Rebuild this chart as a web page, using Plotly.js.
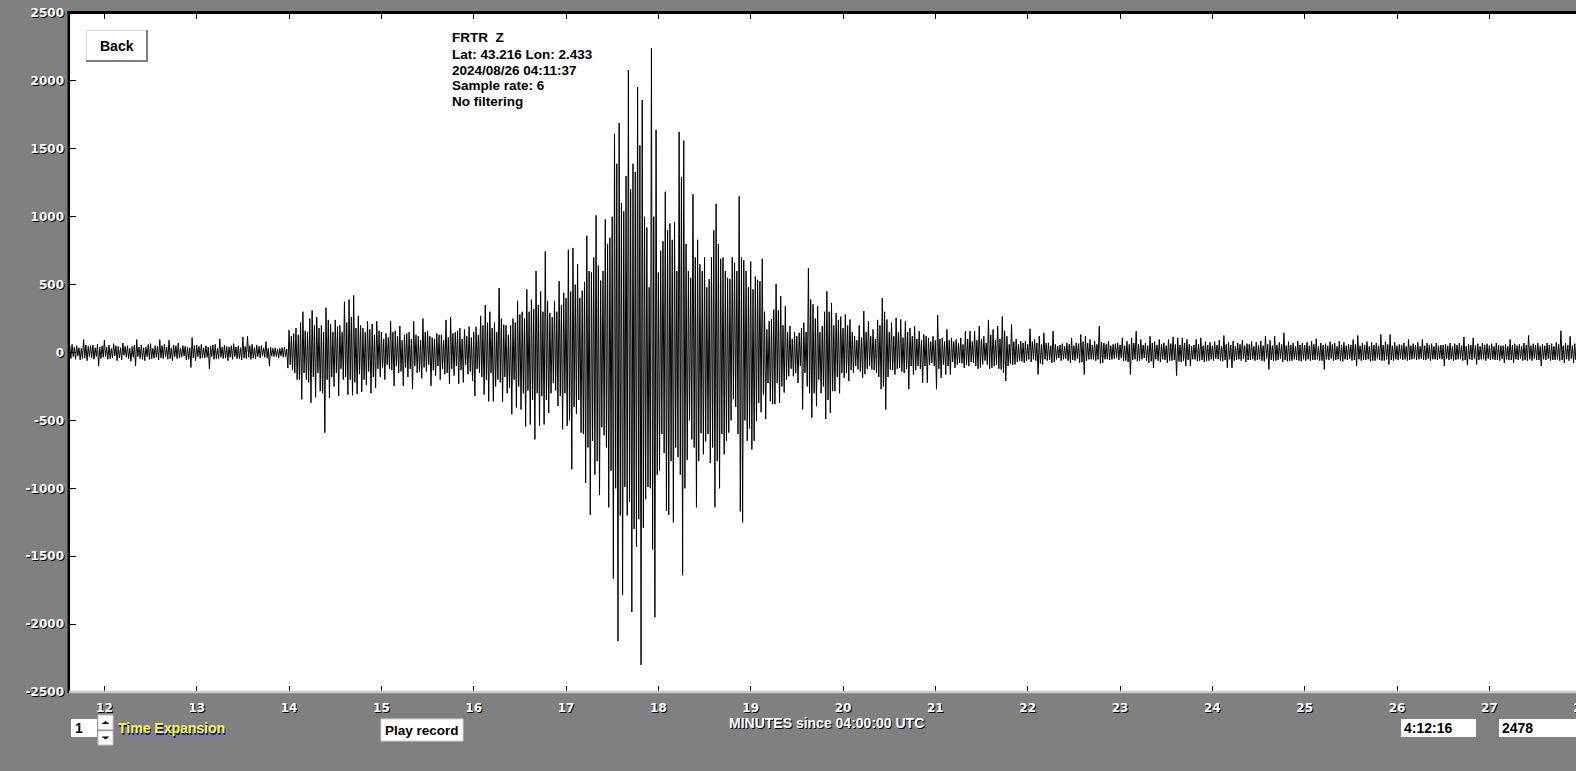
<!DOCTYPE html>
<html>
<head>
<meta charset="utf-8">
<script src="https://cdn.plot.ly/plotly-3.0.1.min.js"></script>
<style>
html,body{margin:0;padding:0;background:#808080;overflow:hidden;width:1576px;height:771px;}
#chart{width:1600px;height:771px;}
</style>
</head>
<body>
<div id="chart"></div>
<script>
// ---- data: seismogram amplitude (counts), one value every 0.75 s starting 11.6 min ----
const startMinute = 11.6;
const stepMinute = 0.0125;
const m11 = [20,-35,45,-45,60,-30,40,-50,50,-25,35,-55,30,-45,95,-40,55,-60,45,-30,50,-40,55,-50,35,-30,60,-100,40,-45,50,-35];
const m12 = [90,-30,40,-50,55,-45,30,-40,65,-25,50,-60,45,-40,35,-55,70,-20,45,-35,50,-45,30,-65,45,-35,55,-100,95,-30,40,-45,55,-50,35,-60,40,-30,60,-50,65,-45,30,-40,50,-35,45,-55,95,-40,50,-45,60,-30,40,-50,90,-45,35,-60,55,-30,50,-45,70,-40,30,-35,50,-25,45,-55,40,-50,35,-110,110,-40,50,-60];
const m13 = [55,-30,45,-45,60,-40,35,-40,50,-35,40,-120,45,-30,55,-50,60,-45,30,-45,100,-35,40,-45,55,-40,45,-60,40,-35,50,-50,65,-30,40,-45,50,-45,35,-55,115,-40,45,-45,120,-35,50,-50,60,-40,35,-45,55,-30,45,-40,50,-25,35,-35,80,-40,30,-100,40,-25,30,-30,35,-30,25,-40,30,-25,35,-35,40,-30,25,-115];
const m14 = [165,-90,120,-130,140,-150,180,-200,130,-200,220,-345,300,-150,160,-200,150,-220,250,-370,310,-180,200,-330,260,-150,180,-285,200,-300,150,-590,330,-200,240,-335,210,-180,150,-250,240,-150,190,-320,200,-120,150,-200,375,-180,220,-310,390,-200,260,-315,420,-220,180,-305,270,-160,200,-290,180,-200,150,-240,230,-140,170,-300,210,-180,130,-260,230,-120,160,-180];
const m15 = [150,-110,100,-200,140,-90,110,-120,230,-130,150,-245,160,-100,120,-150,195,-140,90,-245,130,-110,140,-180,150,-120,100,-270,230,-100,130,-150,120,-140,90,-190,250,-110,150,-140,160,-90,120,-245,110,-130,100,-170,140,-100,130,-200,130,-120,90,-160,240,-150,110,-230,260,-120,140,-170,150,-100,160,-230,180,-130,100,-220,170,-90,120,-160,190,-140,110,-210];
const m16 = [150,-320,190,-120,130,-150,270,-180,200,-310,350,-200,220,-360,300,-150,180,-360,220,-250,150,-200,475,-220,250,-365,205,-180,200,-300,130,-260,200,-455,250,-200,220,-405,380,-250,280,-420,300,-300,250,-545,465,-280,300,-530,390,-350,320,-640,600,-300,350,-540,450,-320,300,-530,745,-350,380,-445,290,-300,260,-225,380,-280,300,-395,525,-320,350,-565,440,-300];
const m17 = [400,-540,757,-500,450,-860,770,-400,500,-450,650,-350,400,-590,455,-600,520,-960,860,-700,600,-1195,590,-650,700,-900,1010,-800,640,-1050,530,-550,600,-610,980,-700,800,-1140,845,-870,1000,-1664,1610,-1000,1390,-2125,1690,-1200,1100,-1786,1040,-990,1300,-1200,2080,-1100,1200,-1910,1390,-1300,1330,-1430,1955,-1228,1525,-2300,1860,-1290,1000,-1080,920,-990,480,-1000,2240,-1450,1000,-1950,1640,-900];
const m18 = [590,-870,750,-600,820,-740,1184,-1165,900,-1195,950,-800,830,-1250,960,-700,600,-770,1625,-900,1290,-1640,1560,-1000,800,-790,600,-500,550,-640,1165,-700,700,-1140,830,-800,650,-595,600,-750,700,-655,480,-600,540,-815,700,-700,900,-1140,1095,-800,800,-1000,690,-600,700,-750,600,-650,550,-590,540,-500,700,-345,660,-400,600,-600,1150,-1170,700,-1250,680,-500,600,-650,480,-560];
const m19 = [670,-715,465,-650,560,-505,535,-370,525,-440,690,-310,300,-490,170,-225,230,-360,245,-380,315,-380,505,-225,310,-370,415,-250,200,-295,340,-200,150,-175,195,-120,100,-175,150,-150,120,-225,145,-100,180,-420,220,-150,150,-250,620,-300,390,-480,355,-300,250,-395,340,-200,150,-300,195,-250,300,-490,450,-350,300,-445,365,-285,200,-285,290,-180,240,-300,265,-150];
const m20 = [180,-186,280,-150,200,-210,243,-130,150,-150,120,-100,90,-125,200,-140,110,-186,305,-160,150,-120,230,-100,120,-125,170,-130,100,-150,240,-180,200,-270,400,-250,300,-420,243,-180,150,-125,220,-130,120,-162,255,-120,150,-113,243,-140,110,-150,230,-120,150,-270,180,-100,120,-162,194,-130,100,-100,157,-120,90,-223,133,-100,120,-223,108,-90,80,-76,120,-100];
const m21 = [90,-270,275,-120,100,-186,108,-90,80,-162,170,-100,90,-162,108,-70,80,-113,96,-90,70,-76,108,-80,60,-113,157,-90,100,-100,157,-70,80,-76,157,-100,90,-120,194,-110,100,-88,120,-60,70,-90,240,-120,130,-113,170,-100,90,-88,194,-120,100,-125,265,-150,160,-210,120,-100,60,-80,206,-90,80,-88,100,-70,60,-60,83,-65,70,-76,83,-60];
const m22 = [60,-51,175,-70,80,-51,96,-60,70,-162,120,-80,60,-88,145,-50,70,-60,71,-55,50,-76,157,-70,60,-51,47,-40,55,-60,65,-50,45,-45,71,-60,60,-76,108,-55,50,-60,71,-45,65,-76,133,-70,80,-162,120,-60,70,-51,96,-50,55,-51,83,-60,60,-51,194,-80,75,-76,70,-50,60,-50,83,-55,50,-51,60,-45,65,-40,71,-55];
const m23 = [55,-40,108,-60,50,-60,83,-70,60,-162,108,-55,70,-50,157,-65,60,-60,96,-50,55,-40,70,-60,50,-76,120,-65,70,-113,80,-50,55,-60,96,-70,60,-50,71,-55,50,-76,96,-60,65,-60,115,-55,60,-170,108,-65,55,-70,108,-60,70,-100,96,-55,60,-100,47,-50,55,-51,96,-65,60,-60,108,-55,50,-70,80,-60,55,-60,75,-50];
const m24 = [50,-60,80,-45,55,-50,90,-60,45,-65,125,-55,60,-113,75,-50,55,-113,85,-60,45,-55,70,-50,60,-60,90,-45,50,-70,65,-55,60,-55,80,-50,45,-60,75,-55,55,-50,85,-60,50,-65,120,-45,60,-125,90,-55,50,-60,120,-60,55,-55,75,-45,60,-70,145,-55,50,-64,80,-60,55,-60,70,-50,45,-55,85,-60,55,-65,70,-50];
const m25 = [55,-60,75,-50,50,-60,85,-55,60,-55,100,-50,45,-60,70,-60,55,-125,65,-50,50,-55,80,-45,60,-60,70,-55,45,-50,83,-60,55,-65,75,-50,50,-55,60,-45,55,-60,96,-55,60,-100,125,-50,50,-60,70,-55,55,-55,80,-50,45,-65,75,-60,55,-60,70,-45,50,-55,133,-60,55,-60,80,-50,60,-88,133,-55,50,-60,75,-50];
const m26 = [50,-55,60,-45,55,-55,70,-50,45,-60,96,-55,50,-50,65,-45,55,-55,75,-50,45,-45,96,-55,50,-55,70,-45,55,-60,65,-50,45,-50,70,-55,50,-45,55,-50,55,-100,60,-45,50,-55,70,-50,45,-60,65,-55,55,-50,70,-45,50,-60,115,-55,45,-93,60,-50,55,-55,108,-45,50,-88,65,-55,45,-50,70,-50,55,-60,65,-45];
const m27 = [50,-55,65,-50,45,-55,70,-55,55,-60,50,-45,50,-76,60,-50,45,-55,96,-55,55,-76,65,-50,50,-55,60,-45,45,-60,70,-55,55,-60,125,-50,50,-60,65,-45,55,-55,70,-55,45,-100,60,-50,50,-55,70,-45,55,-60,65,-55,45,-55,75,-50,60,-60,160,-55,50,-76,70,-50,55,-60,120,-45,50,-76,65,-55,45,-55,70,-50];
const m28 = [50,-50,60,-55,65,-45,55,-60,70,-50,60,-55,50,-45,60,-50];

const xTickVals = [12,13,14,15,16,17,18,19,20,21,22,23,24,25,26,27,28];
const xTickText = ['12','13','14','15','16','17','18','19','20','21','22','23','24','25','26','27','28'];
const yTickVals = [-2500,-2000,-1500,-1000,-500,0,500,1000,1500,2000,2500];
const yTickText = ['-2500','-2000','-1500','-1000','-500','0','500','1000','1500','2000','2500'];

const infoLines = ['FRTR\u00a0 Z','Lat: 43.216 Lon: 2.433','2024/08/26 04:11:37','Sample rate: 6','No filtering'];

const amplitude = [].concat(m11,m12,m13,m14,m15,m16,m17,m18,m19,m20,m21,m22,m23,m24,m25,m26,m27,m28);
const minutes = amplitude.map((_, i) => startMinute + i * stepMinute);

// ---- layout helpers (pixel -> paper) ----
const PL = 69, PR = 1600, PT = 13, PB = 692;
const fx = x => (x - PL) / (PR - PL);
const fy = y => (PB - y) / (PB - PT);
function rect(x0, y0, x1, y1, fill, lc, lw) {
  return {type:'rect', xref:'paper', yref:'paper', layer:'above',
    x0:fx(x0), x1:fx(x1), y0:fy(y1), y1:fy(y0),
    fillcolor:fill, line:{color:lc || fill, width:lw || 0}};
}
function seg(x0, y0, x1, y1, color, w) {
  return {type:'line', xref:'paper', yref:'paper', layer:'above',
    x0:fx(x0), x1:fx(x1), y0:fy(y0), y1:fy(y1), line:{color:color, width:w}};
}
function tri(cx, cy, up) {
  const h = up ? -3 : 3;
  return {type:'path', xref:'paper', yref:'paper', layer:'above',
    path:'M' + fx(cx-4) + ',' + fy(cy-h/2) + ' L' + fx(cx+4) + ',' + fy(cy-h/2) + ' L' + fx(cx) + ',' + fy(cy+h/2) + ' Z',
    fillcolor:'#000', line:{width:0}};
}
function label(x, y, text, font, xanchor) {
  return {xref:'paper', yref:'paper', x:fx(x), y:fy(y), text:text, showarrow:false,
    xanchor:xanchor || 'left', yanchor:'middle', font:font, borderpad:0};
}

const tickFont = {family:'DejaVu Sans', size:12, color:'#ffffff', weight:'bold', shadow:'1px 1px 0px #000000'};
const blackFont = {family:'Liberation Sans, Arial, sans-serif', size:13.5, color:'#000000', weight:'bold'};
const blackBold = {family:'Liberation Sans, Arial, sans-serif', size:14, color:'#000000', weight:'bold'};

const shapes = [
  // frame lines
  seg(68.8, 11, 68.8, 693, '#000000', 2.5),
  seg(67.5, 12.5, 1600, 12.5, '#000000', 3),
  seg(69, 692, 1600, 692, '#c8c8c8', 2.5),
  // Back button
  rect(86, 30, 148, 62, '#ffffff'),
  seg(86, 30.5, 148, 30.5, '#d4d4d4', 1),
  seg(86.5, 30, 86.5, 62, '#d4d4d4', 1),
  seg(147, 30, 147, 62, '#808080', 2),
  seg(86, 61, 148, 61, '#808080', 2),
  // Play record button
  rect(381, 719, 463, 741, '#ffffff', '#d0d0d0', 1),
  // time expansion box + spinner
  rect(71, 719, 97, 737, '#ffffff'),
  rect(98, 715, 113, 729.5, '#ffffff', '#c0c0c0', 1),
  rect(98, 731, 113, 745, '#ffffff', '#c0c0c0', 1),
  tri(105.5, 722.5, true),
  tri(105.5, 738, false),
  // right info boxes
  rect(1401, 719, 1476, 737, '#ffffff'),
  rect(1499, 719, 1600, 737, '#ffffff')
];

const annotations = [
  label(117, 45.5, 'Back', blackBold, 'center'),
  label(422, 730, 'Play record', blackFont, 'center'),
  label(74, 728, '1', blackBold, 'left'),
  label(117, 727.5, 'Time Expansion', {family:'Liberation Sans, Arial, sans-serif', size:14, color:'#ffff00', weight:'bold', shadow:'1px 2px 0px #0000ff'}, 'left'),
  label(826, 722.5, 'MINUTES since 04:00:00 UTC', {family:'Liberation Sans, Arial, sans-serif', size:14, color:'#ffffff', weight:'bold', shadow:'1px 1px 0px #000000'}, 'center'),
  label(1403, 727.5, '4:12:16', blackBold, 'left'),
  label(1501, 727.5, '2478', blackBold, 'left')
];
const infoY = [38, 54, 70, 86, 102];
infoLines.forEach((t, i) => annotations.push(label(451, infoY[i], t, blackFont, 'left')));

const trace = {
  type:'scatter', mode:'lines', x:minutes, y:amplitude,
  line:{color:'#000000', width:1}, hoverinfo:'skip'
};

const layout = {
  width:1600, height:771, autosize:false,
  margin:{l:PL, r:0, t:PT, b:771 - PB, pad:0},
  paper_bgcolor:'#808080', plot_bgcolor:'#ffffff',
  showlegend:false, hovermode:false,
  xaxis:{range:[11.6167, 11.6167 + (PR - PL) / 92.33], tickmode:'array', tickvals:xTickVals, ticktext:xTickText,
    ticks:'inside', ticklen:6, tickwidth:1, tickcolor:'#000000', mirror:'ticks',
    showline:false, showgrid:false, zeroline:false, tickfont:tickFont, ticklabelstandoff:7, fixedrange:true},
  yaxis:{range:[-2500, 2500], tickmode:'array', tickvals:yTickVals, ticktext:yTickText,
    ticks:'inside', ticklen:7, tickwidth:1, tickcolor:'#000000',
    showline:false, showgrid:false, zeroline:false, tickfont:tickFont, ticklabelstandoff:4, fixedrange:true},
  shapes:shapes,
  annotations:annotations
};

Plotly.newPlot('chart', [trace], layout, {staticPlot:true, displayModeBar:false});
</script>
</body>
</html>
